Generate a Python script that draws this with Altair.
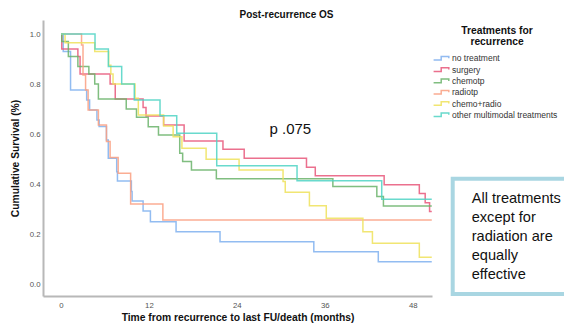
import altair as alt
import pandas as pd

# ---- data ----
series_names = ["no treatment", "surgery", "chemotp", "radiotp", "chemo+radio",
                "other multimodal treatments"]
series_colors = ["#7fb0ef", "#e8577a", "#6ab36a", "#fa9f80", "#efe25a", "#4fd4c4"]

t_none = [0, 0.3, 1.3, 3.5, 3.9, 4.9, 5.2, 6.2, 6.45, 7.6, 7.7, 9.6, 9.7, 11.2, 12.2, 15.7, 21.7, 34.5, 43.3, 50.6]
s_none = [1.0, 0.93, 0.776, 0.736, 0.696, 0.656, 0.63, 0.576, 0.503, 0.449, 0.412, 0.37, 0.332, 0.292, 0.249, 0.209, 0.169, 0.129, 0.089, 0.089]

t_surg = [0, 0.1, 2.3, 2.6, 6.7, 7.4, 11.2, 11.6, 14.0, 16.8, 22.1, 25.0, 33.5, 34.7, 44.1, 48.9, 49.7, 50.3, 50.6]
s_surg = [1.0, 0.94, 0.91, 0.84, 0.80, 0.74, 0.706, 0.672, 0.636, 0.572, 0.539, 0.503, 0.467, 0.433, 0.397, 0.362, 0.325, 0.29, 0.29]

t_chemo = [0, 0.1, 1.0, 2.3, 3.8, 4.6, 5.1, 8.9, 10.3, 11.9, 13.3, 16.2, 16.6, 17.8, 21.2, 37.1, 43.1, 44.0, 50.6]
s_chemo = [1.0, 0.97, 0.91, 0.87, 0.84, 0.80, 0.74, 0.70, 0.667, 0.629, 0.596, 0.523, 0.49, 0.456, 0.421, 0.39, 0.35, 0.312, 0.312]

t_radio = [0, 2.8, 3.0, 3.35, 3.7, 5.1, 6.2, 6.7, 7.8, 9.5, 13.9, 50.6]
s_radio = [1.0, 0.956, 0.836, 0.776, 0.696, 0.636, 0.57, 0.506, 0.443, 0.32, 0.256, 0.256]

t_cr = [0, 0.55, 4.6, 6.5, 6.8, 7.1, 10.1, 10.55, 14.0, 15.3, 16.5, 19.8, 24.3, 30.3, 30.6, 33.9, 36.2, 41.2, 42.5, 48.9, 50.6]
s_cr = [1.0, 0.965, 0.93, 0.875, 0.84, 0.80, 0.743, 0.676, 0.632, 0.589, 0.543, 0.499, 0.456, 0.41, 0.367, 0.313, 0.263, 0.209, 0.163, 0.107, 0.107]

t_other = [0, 4.64, 6.46, 8.28, 10.0, 13.51, 15.79, 21.25, 32.21, 43.77, 50.6]
s_other = [1.0, 0.94, 0.87, 0.80, 0.736, 0.673, 0.603, 0.473, 0.413, 0.339, 0.339]

x_ticks = [0, 12, 24, 36, 48]
y_ticks = [0.0, 0.2, 0.4, 0.6, 0.8, 1.0]

p_text = ["p .075"]
p_x = [31.3]
p_y = [0.619]

box_lines = ["All treatments", "except for", "radiation are", "equally", "effective"]

# ---- build table ----
rows = []
for name, ts, ss in zip(series_names,
                        [t_none, t_surg, t_chemo, t_radio, t_cr, t_other],
                        [s_none, s_surg, s_chemo, s_radio, s_cr, s_other]):
    for t, s in zip(ts, ss):
        rows.append({"group": name, "time": t, "surv": s})
df = pd.DataFrame(rows)

FONT = "Liberation Sans"
W, H = 389, 276

xscale = alt.Scale(domain=[-2.46, 50.63], nice=False, zero=False)
yscale = alt.Scale(domain=[-0.048, 1.056], nice=False, zero=False)

step_path = "M-2.1,0.45H-0.2V-0.45H1.7V0"

lines = alt.Chart(df).mark_line(interpolate="step-after", strokeWidth=1.5, opacity=0.85).encode(
    x=alt.X("time:Q", scale=xscale,
            axis=alt.Axis(values=x_ticks, title="Time from recurrence to last FU/death (months)",
                          ticks=False, grid=False, labelPadding=5, titlePadding=4)),
    y=alt.Y("surv:Q", scale=yscale,
            axis=alt.Axis(values=y_ticks, format=".1f", title="Cumulative Survival (%)",
                          ticks=False, grid=False, labelPadding=3, titlePadding=9)),
    color=alt.Color("group:N",
                    scale=alt.Scale(domain=series_names, range=series_colors),
                    legend=alt.Legend(title=["Treatments for", "recurrence"], orient="none",
                                      legendX=394, legendY=6,
                                      titleAnchor="middle", titleAlign="center",
                                      titleFontSize=10.3, titleFontWeight="bold", titleFont=FONT,
                                      titleColor="#111", titleLineHeight=11, titlePadding=6,
                                      labelFontSize=8.5, labelFont=FONT, labelColor="#333",
                                      symbolType=step_path, symbolSize=64, symbolStrokeWidth=1.5,
                                      rowPadding=1.3, labelOffset=5)),
)

ptext = alt.Chart(pd.DataFrame({"t": p_text, "x": p_x, "y": p_y})).mark_text(
    font=FONT, fontSize=15, color="#111", align="center", baseline="middle"
).encode(x=alt.X("x:Q", scale=xscale), y=alt.Y("y:Q", scale=yscale), text="t:N")

box = alt.Chart(pd.DataFrame({"a": [0]})).mark_rect(
    fill="white", stroke="#a9d6e2", strokeWidth=4
).encode(x=alt.value(409.7), x2=alt.value(530), y=alt.value(158.7), y2=alt.value(274))

boxtext = alt.Chart(pd.DataFrame({"a": [0]})).mark_text(
    text=box_lines, font=FONT, fontSize=14.6, color="#111", align="left", baseline="middle",
    lineHeight=19.1
).encode(x=alt.value(428.7), y=alt.value(179))

chart = alt.layer(lines, ptext, box, boxtext).properties(
    width=W, height=H,
    title=alt.TitleParams("Post-recurrence OS", anchor="middle", dx=49, offset=0.5,
                          fontSize=10, fontWeight="bold", font=FONT, color="#111"),
    autosize=alt.AutoSizeParams(type="none"),
    padding={"left": 35, "top": 12, "right": 132, "bottom": 28},
).configure_view(stroke=None).configure_axis(
    domainColor="#b8b8b8", domainWidth=2, labelFont=FONT, labelFontSize=7.8, labelColor="#555",
    titleFont=FONT, titleFontSize=10.3, titleFontWeight="bold", titleColor="#111"
)

chart.save("out.html", embed_options={"renderer": "svg", "actions": False})
